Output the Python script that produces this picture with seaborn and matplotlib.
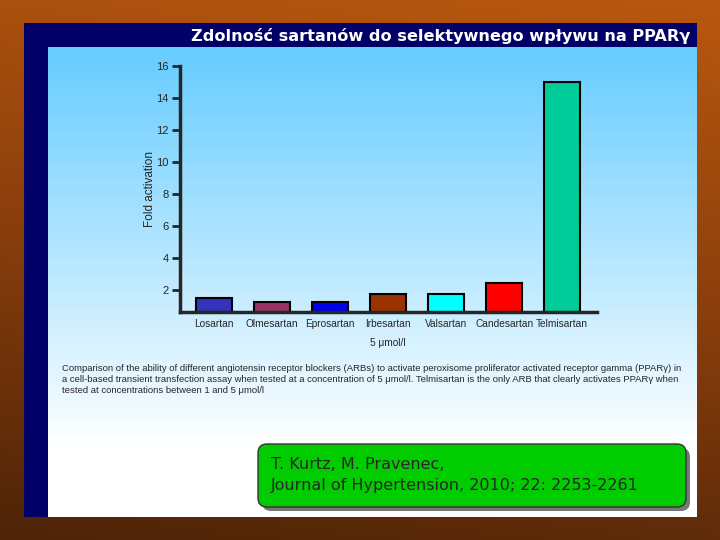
import matplotlib
matplotlib.use("Agg")
import matplotlib.pyplot as plt
from matplotlib.colors import LinearSegmentedColormap
from matplotlib.patches import Rectangle, FancyBboxPatch
import numpy as np
import pandas as pd
import seaborn as sns

# values
drugs = ["Losartan", "Olmesartan", "Eprosartan", "Irbesartan", "Valsartan", "Candesartan", "Telmisartan"]
fold = [1.5, 1.27, 1.27, 1.75, 1.75, 2.42, 15.0]
bar_colors = ["#3333BB", "#993366", "#0000EE", "#993300", "#00FFFF", "#FF0000", "#00CC99"]
yticks = [2, 4, 6, 8, 10, 12, 14, 16]

title = "Zdolność sartanów do selektywnego wpływu na PPARγ"
caption = ("Comparison of the ability of different angiotensin receptor blockers (ARBs) to activate peroxisome proliferator activated receptor gamma (PPARγ) in\n"
           "a cell-based transient transfection assay when tested at a concentration of 5 μmol/l. Telmisartan is the only ARB that clearly activates PPARγ when\n"
           "tested at concentrations between 1 and 5 μmol/l")
citation = "T. Kurtz, M. Pravenec,\nJournal of Hypertension, 2010; 22: 2253-2261"

df = pd.DataFrame({"drug": drugs, "fold": fold})

sns.set_style("white")
plt.rcParams["font.family"] = ["DejaVu Sans"]

fig = plt.figure(figsize=(7.2, 5.4), dpi=100)

# slide background in pixel coordinates
bg = fig.add_axes([0, 0, 1, 1])
bg.set_xlim(0, 720)
bg.set_ylim(540, 0)
bg.axis("off")

brown = LinearSegmentedColormap.from_list("brown", ["#B9580F", "#8A3E0C", "#4E2408"])
grad = np.linspace(0, 1, 256).reshape(-1, 1) * 0.85 + np.linspace(0, 0.15, 256).reshape(1, -1)[:, ::-1]
bg.imshow(grad, cmap=brown, extent=[0, 720, 540, 0], aspect="auto", zorder=0)

bg.add_patch(Rectangle((24, 23), 673, 494, facecolor="#000066", edgecolor="none", zorder=1))
blue = LinearSegmentedColormap.from_list("sky", [(0, "#66CCFF"), (0.85, "#FFFFFF"), (1, "#FFFFFF")])
bg.imshow(np.linspace(0, 1, 256).reshape(-1, 1), cmap=blue, extent=[48, 697, 517, 47],
          aspect="auto", zorder=2)
bg.set_xlim(0, 720)
bg.set_ylim(540, 0)

bg.text(690, 36, title, color="white", fontsize=11.6, fontweight="bold",
        ha="right", va="center", zorder=3)

bg.text(62, 364, caption, fontsize=6.8, family="Liberation Sans", ha="left", va="top",
        linespacing=1.3, zorder=3)

# citation box with shadow
bg.add_patch(FancyBboxPatch((262, 448), 428, 63, boxstyle="round,pad=0,rounding_size=9",
                            facecolor="#777777", edgecolor="none", zorder=3))
bg.add_patch(FancyBboxPatch((258, 444), 428, 63, boxstyle="round,pad=0,rounding_size=9",
                            facecolor="#00CC00", edgecolor="#333333", linewidth=1, zorder=4))
bg.text(271, 475, citation, fontsize=11.5, ha="left", va="center", linespacing=1.55, zorder=5)

# bar chart
ax = fig.add_axes([180 / 720, 1 - 311.7 / 540, 417 / 720, 246 / 540])
ax.patch.set_alpha(0)
sns.barplot(data=df, x="drug", y="fold", hue="drug", palette=bar_colors, legend=False,
            edgecolor="black", linewidth=1.5, width=0.62, saturation=1, ax=ax)
ax.set_ylim(0.65, 16)
ax.set_xlim(-0.59, 6.6)
ax.set_yticks(yticks)
ax.set_yticklabels([str(t) for t in yticks], fontsize=8, family="Liberation Sans")
ax.set_xticks(range(len(drugs)))
ax.set_xticklabels(drugs, fontsize=7.3, family="Liberation Sans")
ax.tick_params(axis="x", length=0, pad=5)
ax.tick_params(axis="y", length=6, width=2, pad=2, direction="out", left=True)
for s in ["top", "right"]:
    ax.spines[s].set_visible(False)
ax.spines["left"].set_linewidth(2.5)
ax.spines["bottom"].set_linewidth(2.5)
ax.set_xlabel("")
ax.set_ylabel("Fold activation", fontsize=8.5, family="Liberation Sans", labelpad=0)
ax.text(3, -0.105, "5 μmol/l", transform=ax.get_xaxis_transform(), fontsize=7.3,
        family="Liberation Sans", ha="center", va="top")

fig.savefig("out.png", dpi=100)
